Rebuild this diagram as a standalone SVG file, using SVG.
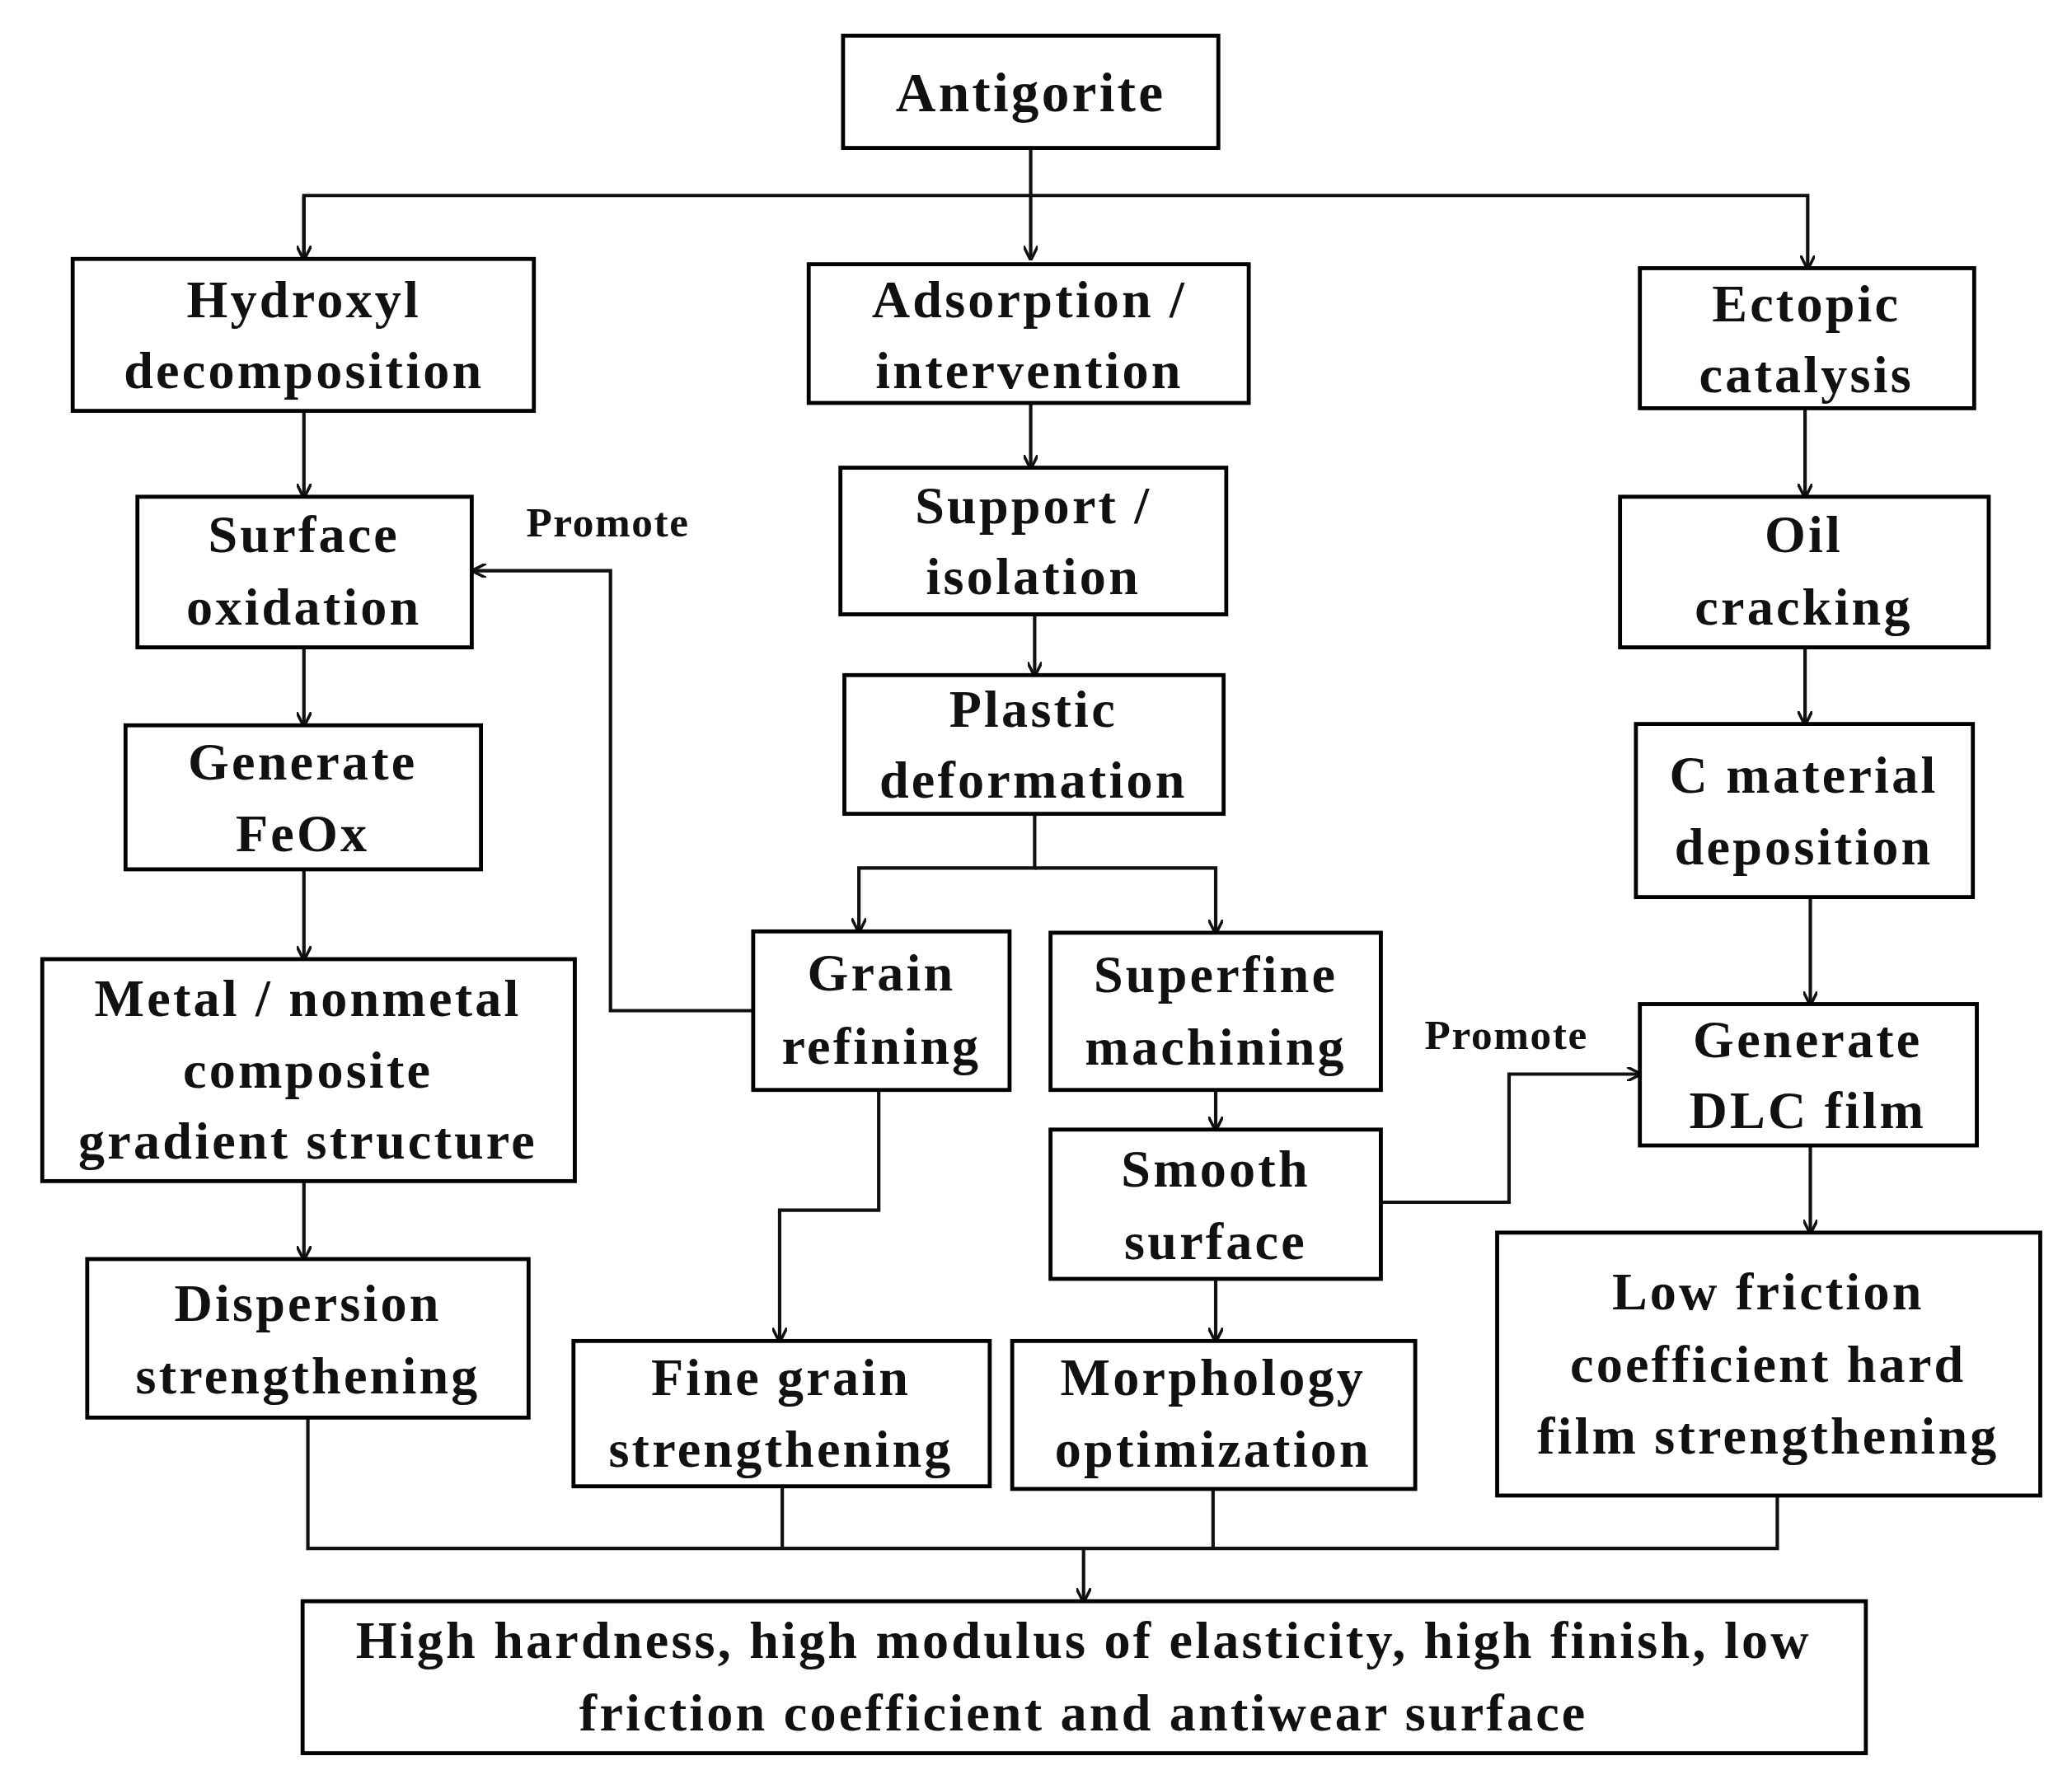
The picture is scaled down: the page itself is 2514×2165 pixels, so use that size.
<svg xmlns="http://www.w3.org/2000/svg" width="2514" height="2165" viewBox="0 0 2514 2165">
<style>
rect{fill:#fff;stroke:#000;stroke-width:3}
text{font-family:"Liberation Serif","Times New Roman",serif;font-weight:bold;font-size:40px;text-anchor:middle;fill:#111;letter-spacing:2px}
.c{fill:none;stroke:#111;stroke-width:2.6}
.p{font-size:32px;letter-spacing:1px}
</style>
<defs><marker id="a" viewBox="0 0 10 10" refX="9" refY="5" markerWidth="11" markerHeight="11" orient="auto" markerUnits="userSpaceOnUse" ><path d="M0,0 L10,5 L0,10" fill="none" stroke="#111" stroke-width="2"/></marker></defs>
<rect x="0" y="0" width="2514" height="2165" style="stroke:none"/>
<g transform="scale(1.6033)">
<g id="connectors">
<path class="c" d="M780,112 V196" marker-end="url(#a)"/>
<path class="c" d="M230,196 V148 H1368 V203" marker-end="url(#a)"/>
<path class="c" d="M230,148 V196" marker-end="url(#a)"/>
<path class="c" d="M230,311 V376" marker-end="url(#a)"/>
<path class="c" d="M230,490 V549" marker-end="url(#a)"/>
<path class="c" d="M230,658 V726" marker-end="url(#a)"/>
<path class="c" d="M230,894 V953" marker-end="url(#a)"/>
<path class="c" d="M780,305 V354" marker-end="url(#a)"/>
<path class="c" d="M783,465 V511" marker-end="url(#a)"/>
<path class="c" d="M783,616 V657 H650 V705" marker-end="url(#a)"/>
<path class="c" d="M783,657 H920 V706" marker-end="url(#a)"/>
<path class="c" d="M570,765 H462 V432 H358" marker-end="url(#a)"/>
<path class="c" d="M665,825 V916 H590 V1015" marker-end="url(#a)"/>
<path class="c" d="M920,825 V855" marker-end="url(#a)"/>
<path class="c" d="M920,968 V1015" marker-end="url(#a)"/>
<path class="c" d="M1045,910 H1142 V813 H1241" marker-end="url(#a)"/>
<path class="c" d="M1366,309 V376" marker-end="url(#a)"/>
<path class="c" d="M1366,490 V548" marker-end="url(#a)"/>
<path class="c" d="M1370,679 V760" marker-end="url(#a)"/>
<path class="c" d="M1370,867 V933" marker-end="url(#a)"/>
<path class="c" d="M233,1073 V1172 H1345 V1132 M592,1125 V1172 M918,1127 V1172"/>
<path class="c" d="M820,1172 V1212" marker-end="url(#a)"/>
<text class="p" x="460" y="406">Promote</text>
<text class="p" x="1140" y="794">Promote</text>
</g>
<g id="antigorite"><rect x="638" y="27" width="284" height="85"/><text x="780" y="84" style="font-size:42px">Antigorite</text></g>
<g id="hydroxyl"><rect x="55" y="196" width="349" height="115"/><text x="230" y="240">Hydroxyl</text><text x="230" y="294">decomposition</text></g>
<g id="adsorption"><rect x="612" y="200" width="333" height="105"/><text x="779" y="240">Adsorption /</text><text x="779" y="294">intervention</text></g>
<g id="ectopic"><rect x="1241" y="203" width="253" height="106"/><text x="1367" y="243">Ectopic</text><text x="1367" y="297">catalysis</text></g>
<g id="surface"><rect x="104" y="376" width="253" height="114"/><text x="230" y="418">Surface</text><text x="230" y="473">oxidation</text></g>
<g id="support"><rect x="636" y="354" width="292" height="111"/><text x="782" y="396">Support /</text><text x="782" y="450">isolation</text></g>
<g id="oil"><rect x="1226" y="376" width="279" height="114"/><text x="1365" y="418">Oil</text><text x="1365" y="473">cracking</text></g>
<g id="feox"><rect x="95" y="549" width="269" height="109"/><text x="229" y="590">Generate</text><text x="229" y="644">FeOx</text></g>
<g id="plastic"><rect x="639" y="511" width="287" height="105"/><text x="782" y="550">Plastic</text><text x="782" y="604">deformation</text></g>
<g id="cmat"><rect x="1238" y="548" width="255" height="131"/><text x="1365" y="600">C material</text><text x="1365" y="654">deposition</text></g>
<g id="metal"><rect x="32" y="726" width="403" height="168"/><text x="233" y="769">Metal / nonmetal</text><text x="233" y="823">composite</text><text x="233" y="877">gradient structure</text></g>
<g id="grain"><rect x="570" y="705" width="194" height="120"/><text x="667" y="750">Grain</text><text x="667" y="805">refining</text></g>
<g id="superfine"><rect x="795" y="706" width="250" height="119"/><text x="920" y="751">Superfine</text><text x="920" y="806">machining</text></g>
<g id="dlc"><rect x="1241" y="760" width="255" height="107"/><text x="1368" y="800">Generate</text><text x="1368" y="854">DLC film</text></g>
<g id="smooth"><rect x="795" y="855" width="250" height="113"/><text x="920" y="898">Smooth</text><text x="920" y="953">surface</text></g>
<g id="dispersion"><rect x="66" y="953" width="334" height="120"/><text x="233" y="1000">Dispersion</text><text x="233" y="1055">strengthening</text></g>
<g id="finegrain"><rect x="434" y="1015" width="315" height="110"/><text x="591" y="1056">Fine grain</text><text x="591" y="1110">strengthening</text></g>
<g id="morphology"><rect x="766" y="1015" width="305" height="112"/><text x="918" y="1056">Morphology</text><text x="918" y="1110">optimization</text></g>
<g id="lowfriction"><rect x="1133" y="933" width="411" height="199"/><text x="1338" y="991">Low friction</text><text x="1338" y="1046">coefficient hard</text><text x="1338" y="1100">film strengthening</text></g>
<g id="result"><rect x="229" y="1212" width="1183" height="115"/><text x="820" y="1255">High hardness, high modulus of elasticity, high finish, low</text><text x="820" y="1310">friction coefficient and antiwear surface</text></g>
</g>
</svg>
